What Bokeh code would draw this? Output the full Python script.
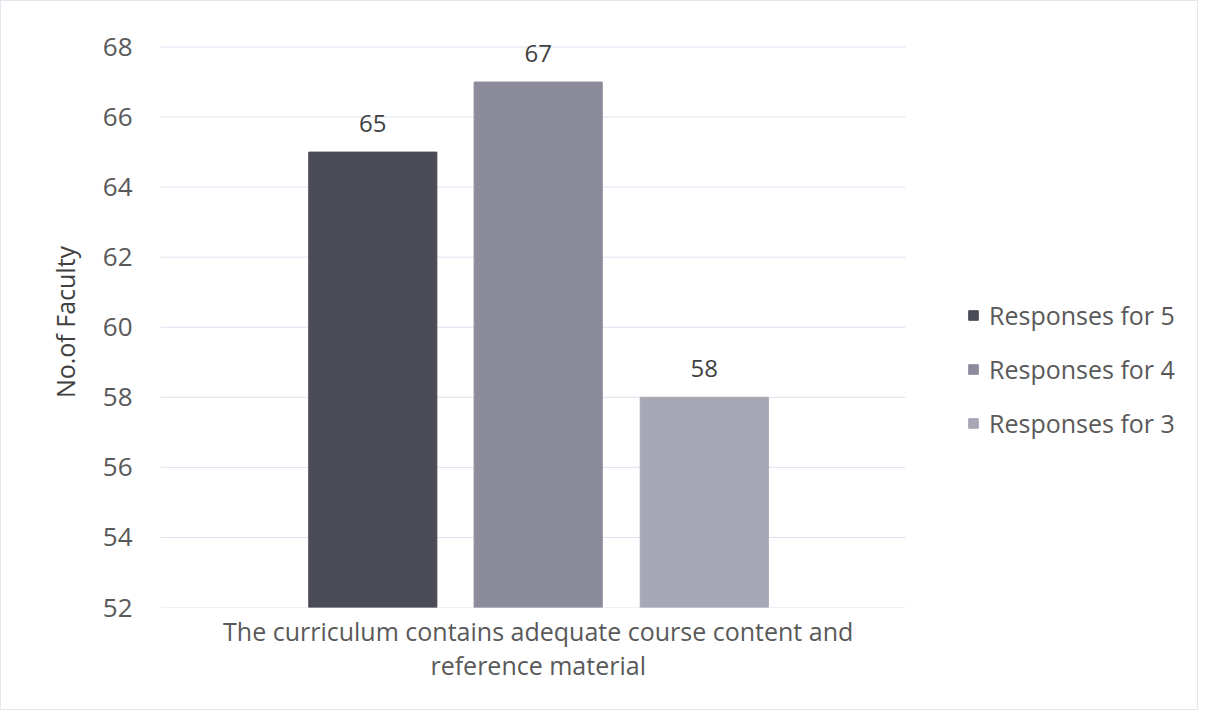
from bokeh.plotting import figure
from bokeh.models import ColumnDataSource, LabelSet, Legend, LegendItem, Range1d, FixedTicker
from bokeh.core.properties import value
from bokeh.embed import file_html
from bokeh.resources import INLINE

category = "The curriculum contains adequate course content and\nreference material"
series = ["Responses for 5", "Responses for 4", "Responses for 3"]
values = [65, 67, 58]
colors = ["#4b4b57", "#8c8b9b", "#a7a7b5"]
y_ticks = [52, 54, 56, 58, 60, 62, 64, 66, 68]
y_label = "No.of Faculty"

FONT = "Open Sans"
TXT = "#595959"

# layout: category band occupies [0, 1]; the frame continues to the right for the legend
CAT_CENTER = 0.507
OFFSETS = [-0.222, 0.0, 0.223]
BAR_W = 0.172
X_END = 1.384
Y_HEADROOM = 0.3  # room above the top gridline for the value labels

p = figure(width=1198, height=710, x_range=Range1d(0, X_END),
           y_range=Range1d(y_ticks[0], y_ticks[-1] + Y_HEADROOM),
           output_backend="svg", toolbar_location=None,
           min_border_left=159, min_border_right=8, min_border_top=35, min_border_bottom=104)
p.background_fill_color = "white"
p.border_fill_color = "white"
p.outline_line_color = None

# horizontal gridlines limited to the category band
p.segment(x0=[0] * len(y_ticks), x1=[1] * len(y_ticks), y0=y_ticks, y1=y_ticks,
          line_color="#dce2ef", line_width=1)

items = []
for s, v, c, off in zip(series, values, colors, OFFSETS):
    src = ColumnDataSource(dict(x=[CAT_CENTER + off], top=[v], bottom=[y_ticks[0]], lab=[str(v)]))
    r = p.vbar(x="x", top="top", bottom="bottom", width=BAR_W,
               source=src, fill_color=c, line_color=c)
    items.append(LegendItem(label=s, renderers=[r]))
    lbl = LabelSet(x="x", y="top", text="lab", source=src,
                   text_align="center", text_baseline="bottom", y_offset=20,
                   text_font=value(FONT), text_font_size="24px", text_color="#404040")
    p.add_layout(lbl)

legend = Legend(items=items, location=(807, 167), orientation="vertical",
                label_text_font=FONT, label_text_font_size="25px", label_text_color=TXT,
                glyph_width=12, glyph_height=12, spacing=20, label_height=34,
                border_line_color=None, background_fill_alpha=0, padding=0, margin=0,
                label_standoff=10)
p.add_layout(legend)

p.yaxis.ticker = FixedTicker(ticks=y_ticks)
p.yaxis.axis_label = y_label
p.yaxis.axis_label_text_font = FONT
p.yaxis.axis_label_text_font_size = "25px"
p.yaxis.axis_label_text_font_style = "normal"
p.yaxis.axis_label_text_color = "#404040"
p.yaxis.axis_label_standoff = 18
p.yaxis.major_label_text_font = FONT
p.yaxis.major_label_text_font_size = "26px"
p.yaxis.major_label_text_color = TXT
p.yaxis.major_label_standoff = 22
p.yaxis.axis_line_color = None
p.yaxis.major_tick_line_color = None
p.yaxis.minor_tick_line_color = None

p.xaxis.ticker = FixedTicker(ticks=[CAT_CENTER])
p.xaxis.major_label_overrides = {CAT_CENTER: category}
p.xaxis.axis_line_color = None
p.xaxis.major_tick_line_color = None
p.xaxis.minor_tick_line_color = None
p.xaxis.major_label_text_font = FONT
p.xaxis.major_label_text_font_size = "25px"
p.xaxis.major_label_text_color = TXT
p.xaxis.major_label_standoff = 0
p.xaxis.major_label_text_line_height = 1.0

p.xgrid.grid_line_color = None
p.ygrid.grid_line_color = None

p.styles = {"border": "1px solid #e3e6ec"}

open("out.html", "w").write(file_html(p, INLINE))
